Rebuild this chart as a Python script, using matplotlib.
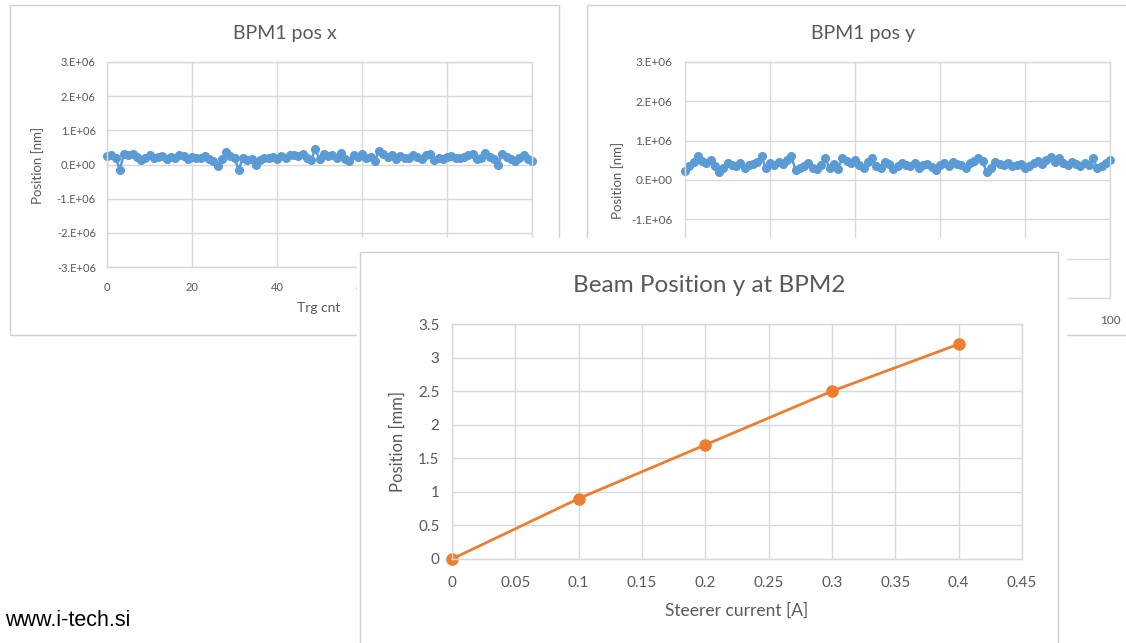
import matplotlib
matplotlib.use("Agg")
import matplotlib.pyplot as plt
from matplotlib.patches import Rectangle
from matplotlib.ticker import FuncFormatter, MultipleLocator

# BPM1 position readouts, one per trigger (values in micrometres)
trg_cnt = list(range(101))
pos_x_um = [250, 270, 200, -150, 310, 280, 300, 220, 120, 200,
            270, 190, 230, 260, 170, 220, 200, 280, 250, 160,
            230, 180, 200, 250, 150, 100, -50, 150, 370, 250,
            180, -150, 200, 120, 150, -20, 120, 180, 200, 230,
            170, 240, 200, 270, 280, 240, 300, 180, 120, 450,
            150, 300, 250, 280, 200, 330, 150, 100, 280, 220,
            320, 180, 230, 100, 400, 300, 230, 280, 150, 260,
            200, 180, 270, 230, 150, 280, 300, 120, 200, 160,
            230, 250, 180, 200, 230, 280, 300, 170, 200, 330,
            220, 150, 0, 300, 230, 170, 100, 200, 280, 150, 100]
pos_y_um = [220, 350, 450, 600, 480, 420, 500, 350, 200, 300,
            420, 380, 350, 420, 300, 380, 400, 450, 600, 300,
            420, 380, 450, 400, 500, 620, 250, 300, 350, 420,
            300, 280, 380, 550, 300, 400, 280, 550, 480, 420,
            500, 380, 300, 450, 550, 350, 300, 450, 400, 280,
            350, 420, 380, 350, 420, 300, 380, 400, 320, 250,
            380, 420, 350, 450, 400, 380, 300, 420, 480, 550,
            480, 200, 300, 450, 400, 380, 420, 350, 380, 400,
            300, 350, 420, 480, 400, 520, 580, 450, 550, 420,
            380, 450, 400, 350, 420, 380, 560, 300, 350, 420, 500]

# steerer scan
steerer_current = [0, 0.1, 0.2, 0.3, 0.4]
beam_pos_mm = [0, 0.9, 1.7, 2.5, 3.2]

W, H = 1126, 643
BLUE = "#5b9bd5"
ORANGE = "#ed7d31"
GRID = "#d9d9d9"
TXT = "#595959"
FRAME = "#d0d0d0"

plt.rcParams["font.family"] = ["Lato", "DejaVu Sans"]

fig = plt.figure(figsize=(W / 100, H / 100), dpi=100)


def box(x0, y0, x1, y1):
    # pixel box (top-left origin) -> figure fraction rect
    return [x0 / W, (H - y1) / H, (x1 - x0) / W, (y1 - y0) / H]


def frame(x0, y0, x1, y1, z, edge=FRAME):
    l, b, w, h = box(x0, y0, x1, y1)
    fig.add_artist(Rectangle((l, b), w, h, transform=fig.transFigure,
                             facecolor="white", edgecolor=edge, lw=1, zorder=z))


def ftext(x, y, s, z, **kw):
    fig.text(x / W, (H - y) / H, s, zorder=z, ha="center", va="center", **kw)


def sci(v, _):
    if abs(v) < 1:
        return "0.E+00"
    return "%d.E+06" % round(v / 1e6)


def style(ax, z, tick_size, xpad, ypad):
    ax.set_zorder(z)
    ax.set_facecolor("white")
    for sp in ax.spines.values():
        sp.set_color(GRID)
        sp.set_linewidth(1)
    ax.grid(True, color=GRID, lw=1)
    ax.set_axisbelow(True)
    ax.tick_params(length=0, labelsize=tick_size, labelcolor=TXT)
    ax.tick_params(axis="x", pad=xpad)
    ax.tick_params(axis="y", pad=ypad)


# ---- BPM1 pos x ----
frame(10, 5, 559, 335, 10)
ax1 = fig.add_axes(box(107, 62, 532, 267))
style(ax1, 11, 8, 11, 8)
ax1.plot(trg_cnt, [v * 1000 for v in pos_x_um], color=BLUE, lw=1.8,
         marker="o", ms=5.5, clip_on=False)
ax1.set_xlim(0, 100)
ax1.set_ylim(-3e6, 3e6)
ax1.xaxis.set_major_locator(MultipleLocator(20))
ax1.yaxis.set_major_locator(MultipleLocator(1e6))
ax1.yaxis.set_major_formatter(FuncFormatter(sci))
ftext(285, 33, "BPM1 pos x", 12, fontsize=14, color=TXT)
ftext(38, 165, "Position [nm]", 12, fontsize=9.5, color=TXT, rotation=90)
ftext(319, 308, "Trg cnt", 12, fontsize=10, color=TXT)

# ---- BPM1 pos y ----
frame(587, 5, 1140, 335, 20)
ax2 = fig.add_axes(box(685, 62, 1110, 298))
style(ax2, 21, 8.5, 12, 9)
ax2.plot(trg_cnt, [v * 1000 for v in pos_y_um], color=BLUE, lw=1.8,
         marker="o", ms=5.5, clip_on=False)
ax2.set_xlim(0, 100)
ax2.set_ylim(-3e6, 3e6)
ax2.xaxis.set_major_locator(MultipleLocator(20))
ax2.yaxis.set_major_locator(MultipleLocator(1e6))
ax2.yaxis.set_major_formatter(FuncFormatter(sci))
ftext(863, 33, "BPM1 pos y", 22, fontsize=14, color=TXT)
ftext(618, 180, "Position [nm]", 22, fontsize=9.5, color=TXT, rotation=90)

# ---- Beam Position y at BPM2 (overlaid) ----
frame(357, 238, 1066, 660, 30, edge="white")
frame(360, 252, 1058, 660, 31)
ax3 = fig.add_axes(box(452, 324, 1022, 559))
style(ax3, 32, 11, 12, 9)
ax3.plot(steerer_current, beam_pos_mm, color=ORANGE, lw=2, marker="o", ms=8,
         clip_on=False)
ax3.set_xlim(0, 0.45)
ax3.set_ylim(0, 3.5)
ax3.xaxis.set_major_locator(MultipleLocator(0.05))
ax3.yaxis.set_major_locator(MultipleLocator(0.5))
ax3.xaxis.set_major_formatter(FuncFormatter(lambda v, _: "%g" % round(v, 2)))
ax3.yaxis.set_major_formatter(FuncFormatter(lambda v, _: "%g" % v))
ftext(709, 285, "Beam Position y at BPM2", 33, fontsize=17.5, color=TXT)
ftext(398, 442, "Position [mm]", 33, fontsize=12, color=TXT, rotation=90)
ftext(737, 611, "Steerer current [A]", 33, fontsize=12.5, color=TXT)

fig.text(5 / W, (H - 620) / H, "www.i-tech.si", fontsize=15.5, color="black",
         family="Liberation Sans", ha="left", va="center", zorder=40)

fig.savefig("out.png", dpi=100, facecolor="white")
